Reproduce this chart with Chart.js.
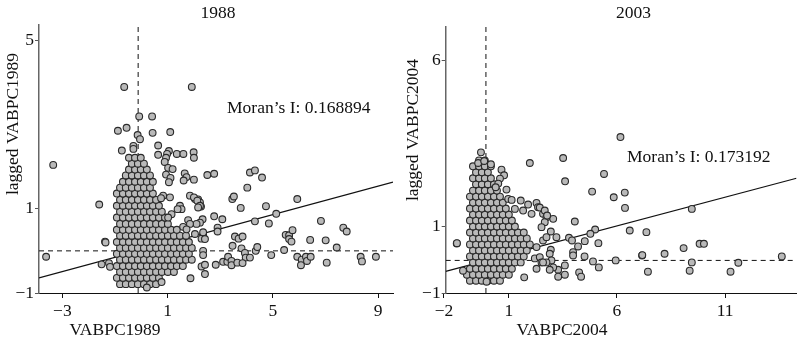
<!DOCTYPE html>
<html><head><meta charset="utf-8">
<script src="https://cdn.jsdelivr.net/npm/chart.js@4.4.1/dist/chart.umd.min.js"></script>
<style>
html,body{margin:0;padding:0;background:#fff;}
#wrap{position:relative;width:801px;height:340px;overflow:hidden;}
canvas{position:absolute;top:0;}
</style></head><body>
<div id="wrap">
<canvas id="c1" width="400" height="340" style="left:0;width:400px;height:340px"></canvas>
<canvas id="c2" width="401" height="340" style="left:400px;width:401px;height:340px"></canvas>
</div>
<script>
// ---------- text ----------
const panelTitles = ['1988', '2003'];
const xAxisTitles = ['VABPC1989', 'VABPC2004'];
const yAxisTitles = ['lagged VABPC1989', 'lagged VABPC2004'];
const moranLabels = ['Moran\u2019s I: 0.168894', 'Moran\u2019s I: 0.173192'];

// ---------- ticks ----------
const xTicks1988 = [-3, 1, 5, 9];
const yTicks1988 = [-1, 1, 5];
const xTicks2003 = [-2, 1, 6, 11];
const yTicks2003 = [-1, 1, 6];

// ---------- 1988 panel: dense cluster rows [y, [x...]] ----------
const cluster1988 = [
  [-0.79, [-0.81,-0.59,-0.36,-0.13,0.10,0.33,0.56]],
  [-0.64, [-0.93,-0.70,-0.47,-0.24,-0.02,0.21,0.44,0.67]],
  [-0.50, [-0.81,-0.59,-0.36,-0.13,0.10,0.33,0.56,0.78,1.01,1.24]],
  [-0.36, [-0.93,-0.70,-0.47,-0.24,-0.02,0.21,0.44,0.67,0.90,1.13,1.35,1.58]],
  [-0.21, [-0.81,-0.59,-0.36,-0.13,0.10,0.33,0.56,0.78,1.01,1.24,1.47,1.70,1.92]],
  [-0.07, [-0.93,-0.70,-0.47,-0.24,-0.02,0.21,0.44,0.67,0.90,1.13,1.35,1.58,1.81]],
  [0.07,  [-0.81,-0.59,-0.36,-0.13,0.10,0.33,0.56,0.78,1.01,1.24,1.47,1.70,1.92]],
  [0.21,  [-0.93,-0.70,-0.47,-0.24,-0.02,0.21,0.44,0.67,0.90,1.13,1.35,1.58,1.81]],
  [0.36,  [-0.81,-0.59,-0.36,-0.13,0.10,0.33,0.56,0.78,1.01,1.24,1.47,1.70]],
  [0.50,  [-0.93,-0.70,-0.47,-0.24,-0.02,0.21,0.44,0.67,0.90,1.13,1.35]],
  [0.64,  [-0.81,-0.59,-0.36,-0.13,0.10,0.33,0.56,0.78,1.01]],
  [0.79,  [-0.93,-0.70,-0.47,-0.24,-0.02,0.21,0.44,0.67,0.90]],
  [0.93,  [-0.81,-0.59,-0.36,-0.13,0.10,0.33,0.56,0.78]],
  [1.07,  [-0.93,-0.70,-0.47,-0.24,-0.02,0.21,0.44,0.67]],
  [1.21,  [-0.81,-0.59,-0.36,-0.13,0.10,0.33,0.56]],
  [1.36,  [-0.93,-0.70,-0.47,-0.24,-0.02,0.21,0.44]],
  [1.50,  [-0.81,-0.59,-0.36,-0.13,0.10,0.33]],
  [1.64,  [-0.70,-0.47,-0.24,-0.02,0.21,0.44]],
  [1.79,  [-0.59,-0.36,-0.13,0.10,0.33]],
  [1.93,  [-0.47,-0.24,-0.02,0.21]],
  [2.07,  [-0.36,-0.13,0.10]],
  [2.21,  [-0.47,-0.24,-0.02]]
];
// 1988 panel: individual points [x, y]
const points1988 = [
  [-3.35,2.04],[-3.62,-0.14],[-1.60,1.10],[-1.38,0.22],[-1.36,0.20],[-1.51,-0.32],[-1.23,-0.29],[-1.19,-0.38],
  [-0.65,3.89],[1.92,3.89],[-0.08,3.19],[0.41,3.19],[-0.89,2.85],[-0.56,2.92],[0.43,2.80],[1.10,2.82],
  [-0.14,2.75],[-0.05,2.65],[-0.30,2.49],[-0.30,2.42],[-0.74,2.38],[0.64,2.50],[0.64,2.28],[1.05,2.37],
  [0.98,2.30],[0.94,2.21],[0.89,2.11],[1.35,2.30],[1.60,2.30],[1.99,2.34],[2.00,2.21],[1.02,1.97],
  [1.19,1.94],[0.94,1.81],[1.11,1.73],[1.05,1.63],[1.65,1.84],[1.72,1.75],[1.61,1.67],[2.00,1.69],
  [2.51,1.80],[2.77,1.83],[4.13,1.86],[4.32,1.91],[4.59,1.74],[4.03,1.50],[3.46,1.23],[3.52,1.29],
  [3.78,1.02],[4.74,1.06],[5.93,1.23],[5.13,0.88],[4.32,0.70],[4.85,0.65],[2.77,0.82],[3.08,0.75],
  [2.90,0.55],[2.90,0.46],[2.33,0.75],[2.23,0.67],[2.10,0.64],[2.04,1.23],[2.16,1.22],[2.23,1.15],
  [2.27,1.05],[2.04,0.40],[2.35,0.38],[2.29,0.29],[3.56,0.34],[3.70,0.29],[3.85,0.34],[3.47,0.12],
  [3.81,0.06],[3.94,-0.05],[4.35,0.00],[4.41,0.09],[3.97,-0.16],[4.13,-0.16],[4.94,-0.10],[5.43,0.02],
  [5.49,0.38],[5.62,0.37],[5.75,0.49],[5.62,0.28],[5.71,0.22],[2.35,0.00],[2.35,-0.10],[2.29,-0.37],
  [2.42,-0.33],[2.42,-0.55],[2.83,-0.33],[3.11,-0.26],[3.27,-0.26],[3.30,-0.14],[3.43,-0.24],[3.43,-0.34],
  [3.65,-0.28],[3.85,-0.29],[5.93,-0.14],[6.10,-0.21],[6.07,-0.34],[6.26,-0.14],[6.30,-0.24],[6.44,-0.14],
  [6.83,0.71],[7.68,0.55],[7.81,0.46],[6.42,0.26],[7.01,0.25],[7.43,0.08],[7.05,-0.28],[8.34,-0.14],
  [8.39,-0.25],[8.92,-0.14],[0.21,-0.87],[0.77,-0.74],[1.87,-0.65],[1.78,0.73],[1.85,0.64],[1.59,0.57],
  [1.72,0.51],[0.83,1.31],[1.09,1.27],[0.75,1.25],[1.47,1.07],[1.53,0.99],[1.38,0.99],[1.85,1.31],
  [2.00,1.27],[2.13,1.19],[2.23,1.07],[2.16,1.03],[1.15,0.87],[1.02,0.79],[2.35,0.44],[2.42,0.28]
];
const fitLine1988 = [[-3.89,-0.64],[9.57,1.63]];
const meanX1988 = -0.12, meanY1988 = 0.0;
const xRange1988 = [-3.89, 9.57];
const yRange1988 = [-1, 5.36];

// ---------- 2003 panel ----------
const cluster2003 = [
  [-0.63, [-0.80,-0.52,-0.25,0.03,0.31,0.59]],
  [-0.45, [-0.94,-0.66,-0.38,-0.11,0.17,0.45,0.72,1.00]],
  [-0.27, [-0.80,-0.52,-0.25,0.03,0.31,0.59,0.86,1.14]],
  [-0.08, [-0.66,-0.38,-0.11,0.17,0.45,0.72,1.00,1.28,1.55]],
  [0.10,  [-0.80,-0.52,-0.25,0.03,0.31,0.59,0.86,1.14,1.42,1.69]],
  [0.28,  [-0.66,-0.38,-0.11,0.17,0.45,0.72,1.00,1.28,1.55,1.83]],
  [0.46,  [-0.80,-0.52,-0.25,0.03,0.31,0.59,0.86,1.14,1.42,1.69,1.97]],
  [0.64,  [-0.66,-0.38,-0.11,0.17,0.45,0.72,1.00,1.28,1.55,1.83]],
  [0.82,  [-0.80,-0.52,-0.25,0.03,0.31,0.59,0.86,1.14,1.42,1.69]],
  [1.00,  [-0.66,-0.38,-0.11,0.17,0.45,0.72,1.00,1.28]],
  [1.18,  [-0.80,-0.52,-0.25,0.03,0.31,0.59,0.86,1.14]],
  [1.36,  [-0.66,-0.38,-0.11,0.17,0.45,0.72,1.00]],
  [1.54,  [-0.80,-0.52,-0.25,0.03,0.31,0.59,0.86]],
  [1.72,  [-0.66,-0.38,-0.11,0.17,0.45,0.72]],
  [1.90,  [-0.80,-0.52,-0.25,0.03,0.31,0.59]],
  [2.08,  [-0.66,-0.38,-0.11,0.17,0.45]],
  [2.27,  [-0.52,-0.25,0.03,0.31]],
  [2.45,  [-0.66,-0.38,-0.11,0.17]],
  [2.63,  [-0.52,-0.25,0.03]],
  [2.81,  [-0.66,-0.38,-0.11,0.17]],
  [2.99,  [-0.38,-0.11]]
];
const points2003 = [
  [-1.41,0.49],[-1.40,0.50],[-1.12,-0.33],[-0.29,3.23],[-0.42,2.91],[-0.14,2.97],[0.17,2.87],[1.97,2.91],
  [0.66,2.71],[0.78,2.54],[0.59,2.44],[0.51,2.29],[0.39,2.18],[0.89,2.11],[0.97,1.83],[1.13,1.80],
  [1.55,1.78],[1.89,1.66],[2.28,1.71],[2.35,1.58],[2.05,1.38],[1.66,1.48],[1.28,1.53],[2.58,1.38],
  [2.74,1.28],[3.05,1.23],[2.66,1.13],[2.51,0.98],[2.94,0.85],[2.58,0.58],[2.28,0.38],[3.20,0.68],
  [2.20,0.04],[2.43,0.08],[2.51,-0.08],[1.71,-0.53],[-0.03,-0.66],[3.51,3.06],[3.60,2.36],[5.40,2.58],
  [4.85,2.05],[5.85,1.88],[6.36,2.02],[6.37,1.56],[6.16,3.69],[4.05,1.15],[4.99,0.91],[4.77,0.78],
  [6.59,0.88],[7.36,0.83],[3.78,0.66],[3.92,0.58],[4.51,0.56],[4.20,0.40],[5.14,0.50],[3.97,0.23],
  [3.97,0.13],[4.50,0.10],[4.89,-0.05],[5.16,-0.23],[5.94,-0.02],[7.16,0.13],[7.17,0.14],[8.20,0.18],
  [7.43,-0.36],[3.59,-0.17],[3.28,-0.30],[3.28,-0.51],[3.59,-0.45],[4.25,-0.38],[4.34,-0.51],[2.94,0.30],
  [2.89,0.18],[2.97,-0.02],[2.74,-0.08],[2.58,-0.08],[2.74,0.68],[3.05,-0.23],[2.89,-0.30],[2.43,1.57],
  [2.66,1.48],[2.77,1.33],[9.46,1.53],[9.08,0.35],[9.82,0.48],[10.02,0.48],[9.46,-0.08],[9.36,-0.33],
  [11.25,-0.36],[11.61,-0.09],[13.62,0.10],[2.28,-0.27]
];
const fitLine2003 = [[-1.92,-0.35],[14.30,2.45]];
const meanX2003 = -0.06, meanY2003 = -0.02;
const xRange2003 = [-1.92, 14.30];
const yRange2003 = [-1, 7];

// ---------- helpers ----------
const FONT = '"Liberation Serif", "Times New Roman", serif';
function toPoints(rows, extra) {
  const out = [];
  rows.forEach(([y, xs]) => xs.forEach(x => out.push({x, y})));
  extra.forEach(([x, y]) => out.push({x, y}));
  return out;
}
function fmt(v) { return v < 0 ? '\u2212' + Math.abs(v) : String(v); }

const textPlugin = {
  id: 'panelTexts',
  afterDraw(chart, args, o) {
    const ctx = chart.ctx;
    ctx.save();
    ctx.fillStyle = '#111';
    ctx.font = '17.5px ' + FONT;
    ctx.textBaseline = 'middle';
    ctx.textAlign = 'center';
    ctx.fillText(o.title, o.titlePos[0], o.titlePos[1]);
    ctx.fillText(o.xTitle, o.xTitlePos[0], o.xTitlePos[1]);
    ctx.save();
    ctx.translate(o.yTitlePos[0], o.yTitlePos[1]);
    ctx.rotate(-Math.PI / 2);
    ctx.fillText(o.yTitle, 0, 0);
    ctx.restore();
    ctx.textAlign = 'left';
    ctx.fillText(o.moran, o.moranPos[0], o.moranPos[1]);
    ctx.restore();
  }
};

function makeChart(id, cfg) {
  const pts = toPoints(cfg.cluster, cfg.points);
  const fit = cfg.fit.map(([x, y]) => ({x, y}));
  const vline = [{x: cfg.meanX, y: cfg.yRange[0]}, {x: cfg.meanX, y: cfg.yRange[1]}];
  const hline = [{x: cfg.xRange[0], y: cfg.meanY}, {x: cfg.xRange[1], y: cfg.meanY}];
  const tickFont = {family: FONT, size: 17.5};
  return new Chart(document.getElementById(id), {
    type: 'scatter',
    data: {
      datasets: [
        {data: pts, order: 0, pointRadius: 3.4, pointHoverRadius: 3.4, borderWidth: 1.1,
         backgroundColor: '#b9b9b9', borderColor: '#2a2a2a', showLine: false},
        {data: fit, order: 1, showLine: true, pointRadius: 0, borderColor: '#111', borderWidth: 1.2, fill: false},
        {data: vline, order: 2, showLine: true, pointRadius: 0, borderColor: '#111', borderWidth: 1, borderDash: [5, 4]},
        {data: hline, order: 2, showLine: true, pointRadius: 0, borderColor: '#111', borderWidth: 1, borderDash: [5, 4]}
      ]
    },
    options: {
      responsive: false, animation: false, devicePixelRatio: 1,
      layout: {padding: {left: 0, top: cfg.top, right: cfg.right, bottom: 0}},
      plugins: {legend: {display: false}, tooltip: {enabled: false}, panelTexts: cfg.texts},
      scales: {
        x: {
          type: 'linear', min: cfg.xRange[0], max: cfg.xRange[1],
          afterBuildTicks: s => { s.ticks = cfg.xTicks.map(v => ({value: v})); },
          afterFit: s => { s.height = 47; },
          ticks: {callback: v => fmt(v), font: tickFont, color: '#111', padding: 3, maxRotation: 0, autoSkip: false},
          grid: {display: true, drawOnChartArea: false, drawTicks: true, tickLength: 5, color: '#111'},
          border: {display: true, color: '#111', width: 1}
        },
        y: {
          type: 'linear', min: cfg.yRange[0], max: cfg.yRange[1],
          afterBuildTicks: s => { s.ticks = cfg.yTicks.map(v => ({value: v})); },
          afterFit: s => { s.width = cfg.yWidth; },
          ticks: {callback: v => fmt(v), font: tickFont, color: '#111', padding: 1, autoSkip: false},
          grid: {display: true, drawOnChartArea: false, drawTicks: true, tickLength: 4, color: '#555'},
          border: {display: true, color: '#666', width: 1.5}
        }
      }
    },
    plugins: [textPlugin]
  });
}

makeChart('c1', {
  cluster: cluster1988, points: points1988, fit: fitLine1988,
  meanX: meanX1988, meanY: meanY1988, xRange: xRange1988, yRange: yRange1988,
  xTicks: xTicks1988, yTicks: yTicks1988, top: 25, right: 7, yWidth: 39,
  texts: {title: panelTitles[0], titlePos: [218, 13], xTitle: xAxisTitles[0], xTitlePos: [115, 330],
          yTitle: yAxisTitles[0], yTitlePos: [13.5, 124], moran: moranLabels[0], moranPos: [227, 108]}
});
makeChart('c2', {
  cluster: cluster2003, points: points2003, fit: fitLine2003,
  meanX: meanX2003, meanY: meanY2003, xRange: xRange2003, yRange: yRange2003,
  xTicks: xTicks2003, yTicks: yTicks2003, top: 27, right: 4, yWidth: 45.7,
  texts: {title: panelTitles[1], titlePos: [233.5, 13], xTitle: xAxisTitles[1], xTitlePos: [162, 330],
          yTitle: yAxisTitles[1], yTitlePos: [13.5, 130], moran: moranLabels[1], moranPos: [227, 157]}
});
</script>
</body></html>
